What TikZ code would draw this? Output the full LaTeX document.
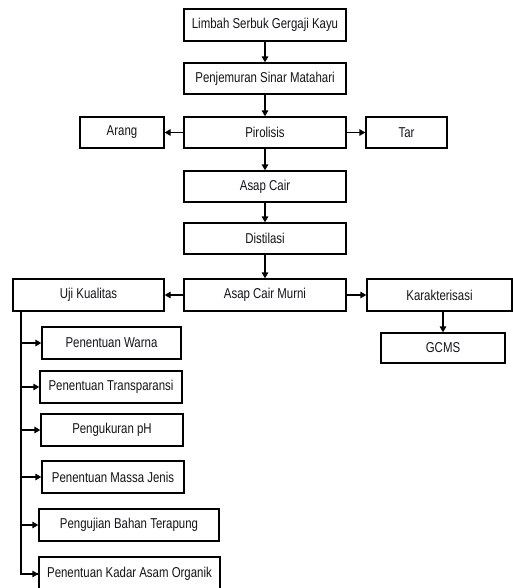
\documentclass[tikz,border=0pt]{standalone}
\usepackage{fontspec}
\setmainfont[FakeStretch=0.8]{Liberation Sans}
\usetikzlibrary{arrows.meta}
\definecolor{txt}{rgb}{0.08,0.08,0.1}
\tikzset{
  box/.style={draw=black, line width=1.3pt, fill=white, text=txt, minimum height=31pt,
    inner sep=0pt, font=\fontsize{14.3}{16}\selectfont},
  conn/.style={line width=1.3pt, -{Triangle[length=6pt,width=6.5pt]}},
  trunkline/.style={line width=1.3pt}
}
\begin{document}
\begin{tikzpicture}[x=1pt,y=-1pt]
\useasboundingbox (0,0) rectangle (513,588);
\begin{scope}
\clip (0,0) rectangle (513,588);
\node[box, minimum width=162pt, minimum height=32pt] (limbah) at (265,25) {Limbah Serbuk Gergaji Kayu};
\node[box, minimum width=162pt] (jemur) at (265,78.5) {Penjemuran Sinar Matahari};
\node[box, minimum width=162pt] (piro) at (265,132.5) {Pirolisis};
\node[box, minimum width=84pt] (arang) at (122,132.5) {Arang};
\node[box, minimum width=81pt] (tar) at (406.5,132.5) {Tar};
\node[box, minimum width=162pt] (asap) at (265,186.5) {Asap Cair};
\node[box, minimum width=162pt] (distil) at (265,238.5) {Distilasi};
\node[box, minimum width=162pt, minimum height=32pt] (murni) at (265,295) {Asap Cair Murni};
\node[box, minimum width=151pt, minimum height=32pt] (uji) at (88.5,295) {Uji Kualitas};
\node[box, minimum width=145pt, minimum height=32pt] (karak) at (439.5,295) {Karakterisasi};
\node[box, minimum width=124pt, minimum height=30pt] (gcms) at (443,348) {GCMS};
\node[box, minimum width=139pt, minimum height=32pt] (warna) at (111.5,343) {Penentuan Warna};
\node[box, minimum width=142pt, minimum height=32pt] (transp) at (111,387) {Penentuan Transparansi};
\node[box, minimum width=142pt, minimum height=32pt] (ph) at (112,430) {Pengukuran pH};
\node[box, minimum width=142pt, minimum height=32pt] (massa) at (113,477) {Penentuan Massa Jenis};
\node[box, minimum width=180pt, minimum height=32pt] (terapung) at (129,525) {Pengujian Bahan Terapung};
\node[box, minimum width=181pt, minimum height=34pt] (kadar) at (129.5,574) {Penentuan Kadar Asam Organik};

\draw[conn] (limbah) -- (jemur);
\draw[conn] (jemur) -- (piro);
\draw[conn] (piro) -- (arang);
\draw[conn] (piro) -- (tar);
\draw[conn] (piro) -- (asap);
\draw[conn] (asap) -- (distil);
\draw[conn] (distil) -- (murni);
\draw[conn] (murni) -- (uji);
\draw[conn] (murni) -- (karak);
\draw[conn] (karak.south -| gcms.north) -- (gcms.north);

\coordinate (trunk) at (21,311);
\draw[trunkline] (trunk) |- (kadar.west);
\draw[conn] (trunk |- kadar.west) -- (kadar.west);
\draw[conn] (trunk |- warna.west) -- (warna.west);
\draw[conn] (trunk |- transp.west) -- (transp.west);
\draw[conn] (trunk |- ph.west) -- (ph.west);
\draw[conn] (trunk |- massa.west) -- (massa.west);
\draw[conn] (trunk |- terapung.west) -- (terapung.west);
\end{scope}
\end{tikzpicture}
\end{document}
